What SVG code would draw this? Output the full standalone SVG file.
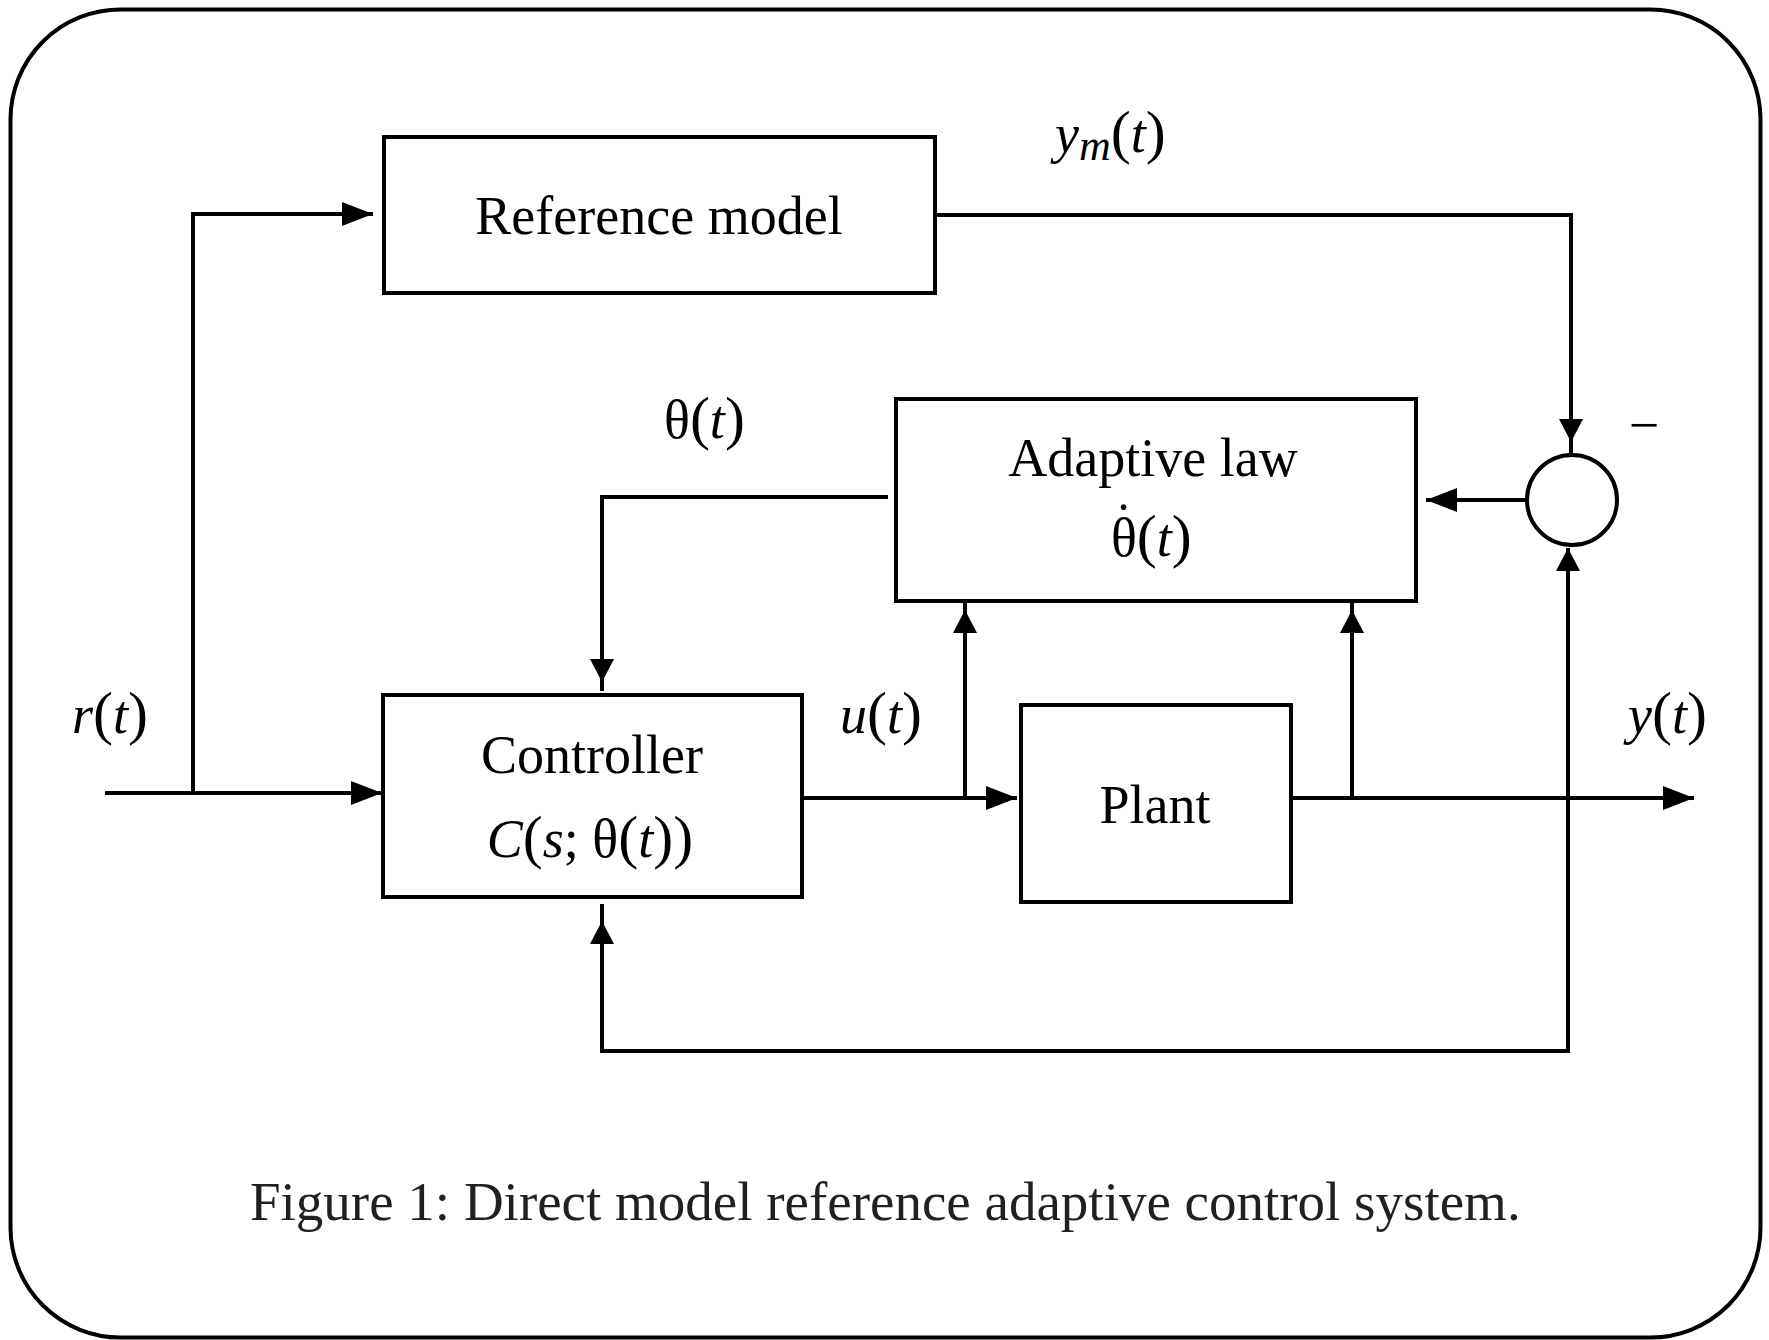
<svg xmlns="http://www.w3.org/2000/svg" width="1769" height="1340" viewBox="0 0 1769 1340">
  <style>
    .frame{fill:#fff;stroke:#000;stroke-width:4}
    .box{fill:none;stroke:#000;stroke-width:4}
    .wire{fill:none;stroke:#000;stroke-width:4;stroke-linejoin:miter;stroke-linecap:butt}
    text{font-family:"Liberation Serif","Times New Roman",serif;font-size:54px;fill:#000}
    .i{font-style:italic}
    .p{font-size:60px}
    .sub{font-size:44px;font-style:italic}
    .cap{fill:#231f20;font-size:55px}
  </style>
  <defs>
    <marker id="ah" viewBox="0 0 31 24" refX="31" refY="12" markerWidth="31" markerHeight="24" markerUnits="userSpaceOnUse" orient="auto">
      <path d="M0,0 L31,12 L0,24 z" fill="#000"/>
    </marker>
    <marker id="av" viewBox="0 0 23 24" refX="23" refY="12" markerWidth="23" markerHeight="24" markerUnits="userSpaceOnUse" orient="auto">
      <path d="M0,0 L23,12 L0,24 z" fill="#000"/>
    </marker>
    <marker id="av-start" viewBox="0 0 23 24" refX="23" refY="12" markerWidth="23" markerHeight="24" markerUnits="userSpaceOnUse" orient="auto-start-reverse">
      <path d="M0,0 L23,12 L0,24 z" fill="#000"/>
    </marker>
  </defs>

  <!-- outer frame -->
  <rect class="frame" x="10.5" y="9.5" width="1750" height="1328" rx="110" ry="110"/>

  <!-- signal wiring -->
  <g id="connectors">
    <path class="wire" d="M105,793 H382" marker-end="url(#ah)"/>
    <path class="wire" d="M193,793 V214 H373" marker-end="url(#ah)"/>
    <path class="wire" d="M935,215 H1571 V442" marker-end="url(#av)"/>
    <path class="wire" d="M1571,440 V455"/>
    <path class="wire" d="M1527,500 H1426" marker-end="url(#ah)"/>
    <path class="wire" d="M888,497 H602 V682" marker-end="url(#av)"/>
    <path class="wire" d="M602,680 V691"/>
    <path class="wire" d="M802,798 H1017" marker-end="url(#ah)"/>
    <path class="wire" d="M965,798 V610" marker-end="url(#av)"/>
    <path class="wire" d="M965,612 V603"/>
    <path class="wire" d="M1291,798 H1694" marker-end="url(#ah)"/>
    <path class="wire" d="M1352,798 V610" marker-end="url(#av)"/>
    <path class="wire" d="M1352,612 V603"/>
    <path class="wire" d="M602,921 V1051 H1568 V548" marker-start="url(#av-start)" marker-end="url(#av)"/>
    <path class="wire" d="M602,923 V904"/>
  </g>

  <g id="reference-model">
    <rect class="box" x="384" y="137" width="551" height="156"/>
    <text x="659" y="234" text-anchor="middle">Reference model</text>
  </g>

  <g id="adaptive-law">
    <rect class="box" x="896" y="399" width="520" height="202"/>
    <text x="1153" y="476" text-anchor="middle">Adaptive law</text>
    <!-- theta with a time-derivative dot set above it -->
    <text x="1111" y="556">θ<tspan dx="-22.5" dy="-15">˙</tspan><tspan class="p" dx="4.5" dy="15">(</tspan><tspan class="i">t</tspan><tspan class="p">)</tspan></text>
  </g>

  <g id="controller">
    <rect class="box" x="383" y="695" width="419" height="202"/>
    <text x="592" y="773" text-anchor="middle">Controller</text>
    <text x="590" y="857" text-anchor="middle"><tspan class="i">C</tspan><tspan class="p">(</tspan><tspan class="i">s</tspan>; θ<tspan class="p">(</tspan><tspan class="i">t</tspan><tspan class="p">))</tspan></text>
  </g>

  <g id="plant">
    <rect class="box" x="1021" y="705" width="270" height="197"/>
    <text x="1155" y="823" text-anchor="middle">Plant</text>
  </g>

  <g id="summing-junction">
    <circle class="box" cx="1572" cy="500" r="45"/>
    <text x="1644" y="443" text-anchor="middle">−</text>
  </g>

  <!-- signal labels -->
  <g id="labels">
    <text x="72" y="733"><tspan class="i">r</tspan><tspan class="p">(</tspan><tspan class="i">t</tspan><tspan class="p">)</tspan></text>
    <text x="840" y="733"><tspan class="i">u</tspan><tspan class="p">(</tspan><tspan class="i">t</tspan><tspan class="p">)</tspan></text>
    <text x="1628" y="733"><tspan class="i">y</tspan><tspan class="p">(</tspan><tspan class="i">t</tspan><tspan class="p">)</tspan></text>
    <text x="1055" y="152"><tspan class="i">y</tspan><tspan class="sub" dy="8">m</tspan><tspan class="p" dy="-8">(</tspan><tspan class="i">t</tspan><tspan class="p">)</tspan></text>
    <text x="664" y="438">θ<tspan class="p">(</tspan><tspan class="i">t</tspan><tspan class="p">)</tspan></text>
  </g>

  <text class="cap" x="250" y="1220">Figure 1: Direct model reference adaptive control system.</text>
</svg>
